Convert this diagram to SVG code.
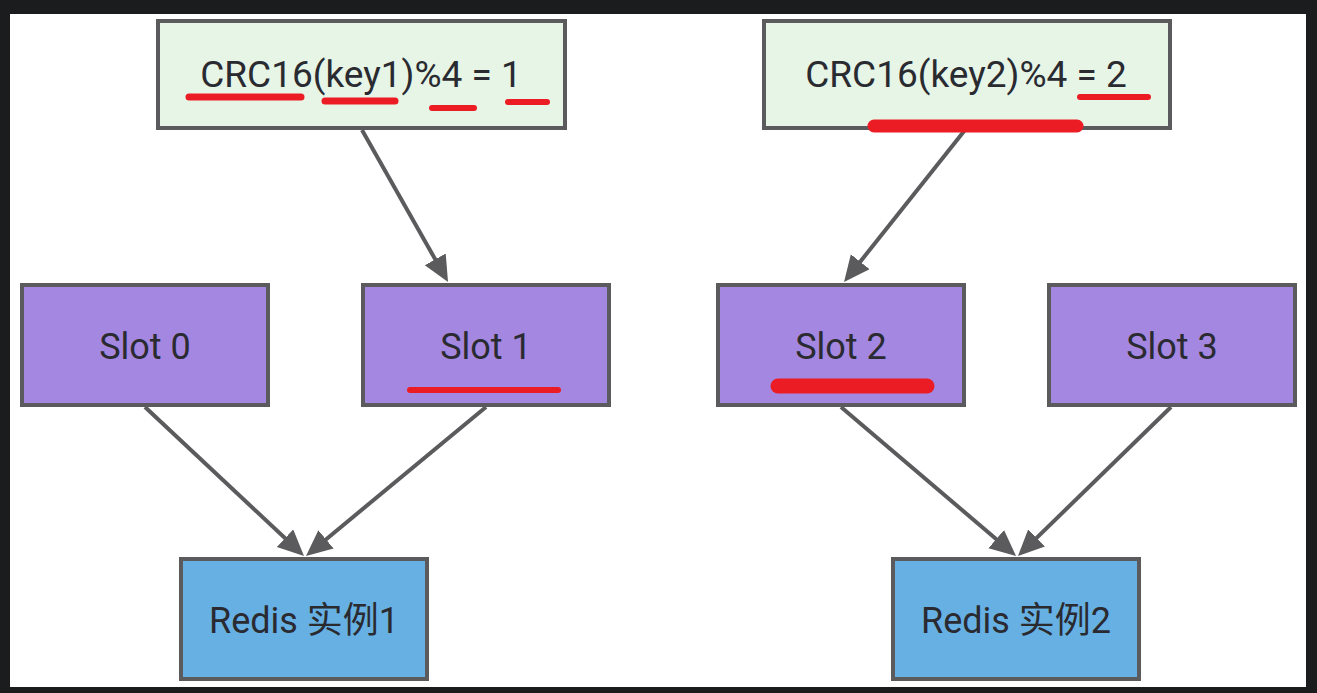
<svg xmlns="http://www.w3.org/2000/svg" width="1317" height="693" viewBox="0 0 1317 693">
<style>
.box{stroke:#5b5b5d;stroke-width:4}
.green{fill:#e6f5e6}
.purple{fill:#a387e0}
.blue{fill:#67b0e3}
.lbl{font-family:Roboto,"Noto Sans","Noto Sans CJK SC",sans-serif;fill:#2a2a31;text-anchor:middle}
.edge{stroke:#5b5b5d;stroke-width:4;fill:none;marker-end:url(#ah)}
.mark{stroke:#ec1c24;stroke-linecap:round;fill:none}
</style>
<defs>
<marker id="ah" markerUnits="userSpaceOnUse" markerWidth="30" markerHeight="26" refX="6" refY="12" orient="auto">
<path d="M0,0 L26,12 L0,24 z" fill="#5b5b5d"/>
</marker>
</defs>
<rect x="0" y="0" width="1317" height="693" fill="#1b1c1e"/>
<rect x="10" y="14" width="1296" height="673" fill="#ffffff"/>
<g id="connectors">
<line class="edge" x1="362" y1="130" x2="438.2" y2="264.6"/>
<line class="edge" x1="965" y1="130" x2="856.5" y2="266.4"/>
<line class="edge" x1="145" y1="407" x2="289.4" y2="542.3"/>
<line class="edge" x1="486" y1="407" x2="321.4" y2="543.2"/>
<line class="edge" x1="841" y1="407" x2="1000.8" y2="543"/>
<line class="edge" x1="1171" y1="407" x2="1032.3" y2="542.1"/>
</g>
<g id="hash1">
<rect class="box green" x="158" y="21" width="407" height="107"/>
<text class="lbl" x="361" y="87" font-size="37">CRC16(key1)%4 = 1</text>
</g>
<g id="hash2">
<rect class="box green" x="764" y="21" width="406" height="107"/>
<text class="lbl" x="966" y="87" font-size="37">CRC16(key2)%4 = 2</text>
</g>
<g id="slot0">
<rect class="box purple" x="22" y="285" width="246" height="120"/>
<text class="lbl" x="145" y="359" font-size="36">Slot 0</text>
</g>
<g id="slot1">
<rect class="box purple" x="363" y="285" width="246" height="120"/>
<text class="lbl" x="486" y="359" font-size="36">Slot 1</text>
</g>
<g id="slot2">
<rect class="box purple" x="718" y="285" width="246" height="120"/>
<text class="lbl" x="841" y="359" font-size="36">Slot 2</text>
</g>
<g id="slot3">
<rect class="box purple" x="1049" y="285" width="246" height="120"/>
<text class="lbl" x="1172" y="359" font-size="36">Slot 3</text>
</g>
<g id="redis1">
<rect class="box blue" x="181" y="559" width="246" height="120"/>
<text class="lbl" x="304" y="633" font-size="36">Redis 实例1</text>
</g>
<g id="redis2">
<rect class="box blue" x="893" y="559" width="246" height="120"/>
<text class="lbl" x="1016" y="633" font-size="36">Redis 实例2</text>
</g>
<g id="annotations">
<line class="mark" stroke-width="7" x1="189" y1="97" x2="301" y2="97"/>
<line class="mark" stroke-width="7" x1="325" y1="101" x2="395" y2="101"/>
<line class="mark" stroke-width="6" x1="432" y1="108" x2="474" y2="108"/>
<line class="mark" stroke-width="6" x1="508" y1="102" x2="547" y2="102"/>
<line class="mark" stroke-width="6" x1="1080" y1="97" x2="1148" y2="97"/>
<line class="mark" stroke-width="13" x1="874" y1="126" x2="1077" y2="126"/>
<line class="mark" stroke-width="6" x1="410" y1="390" x2="558" y2="390"/>
<line class="mark" stroke-width="15" x1="778" y1="386" x2="927" y2="386"/>
</g>
</svg>
